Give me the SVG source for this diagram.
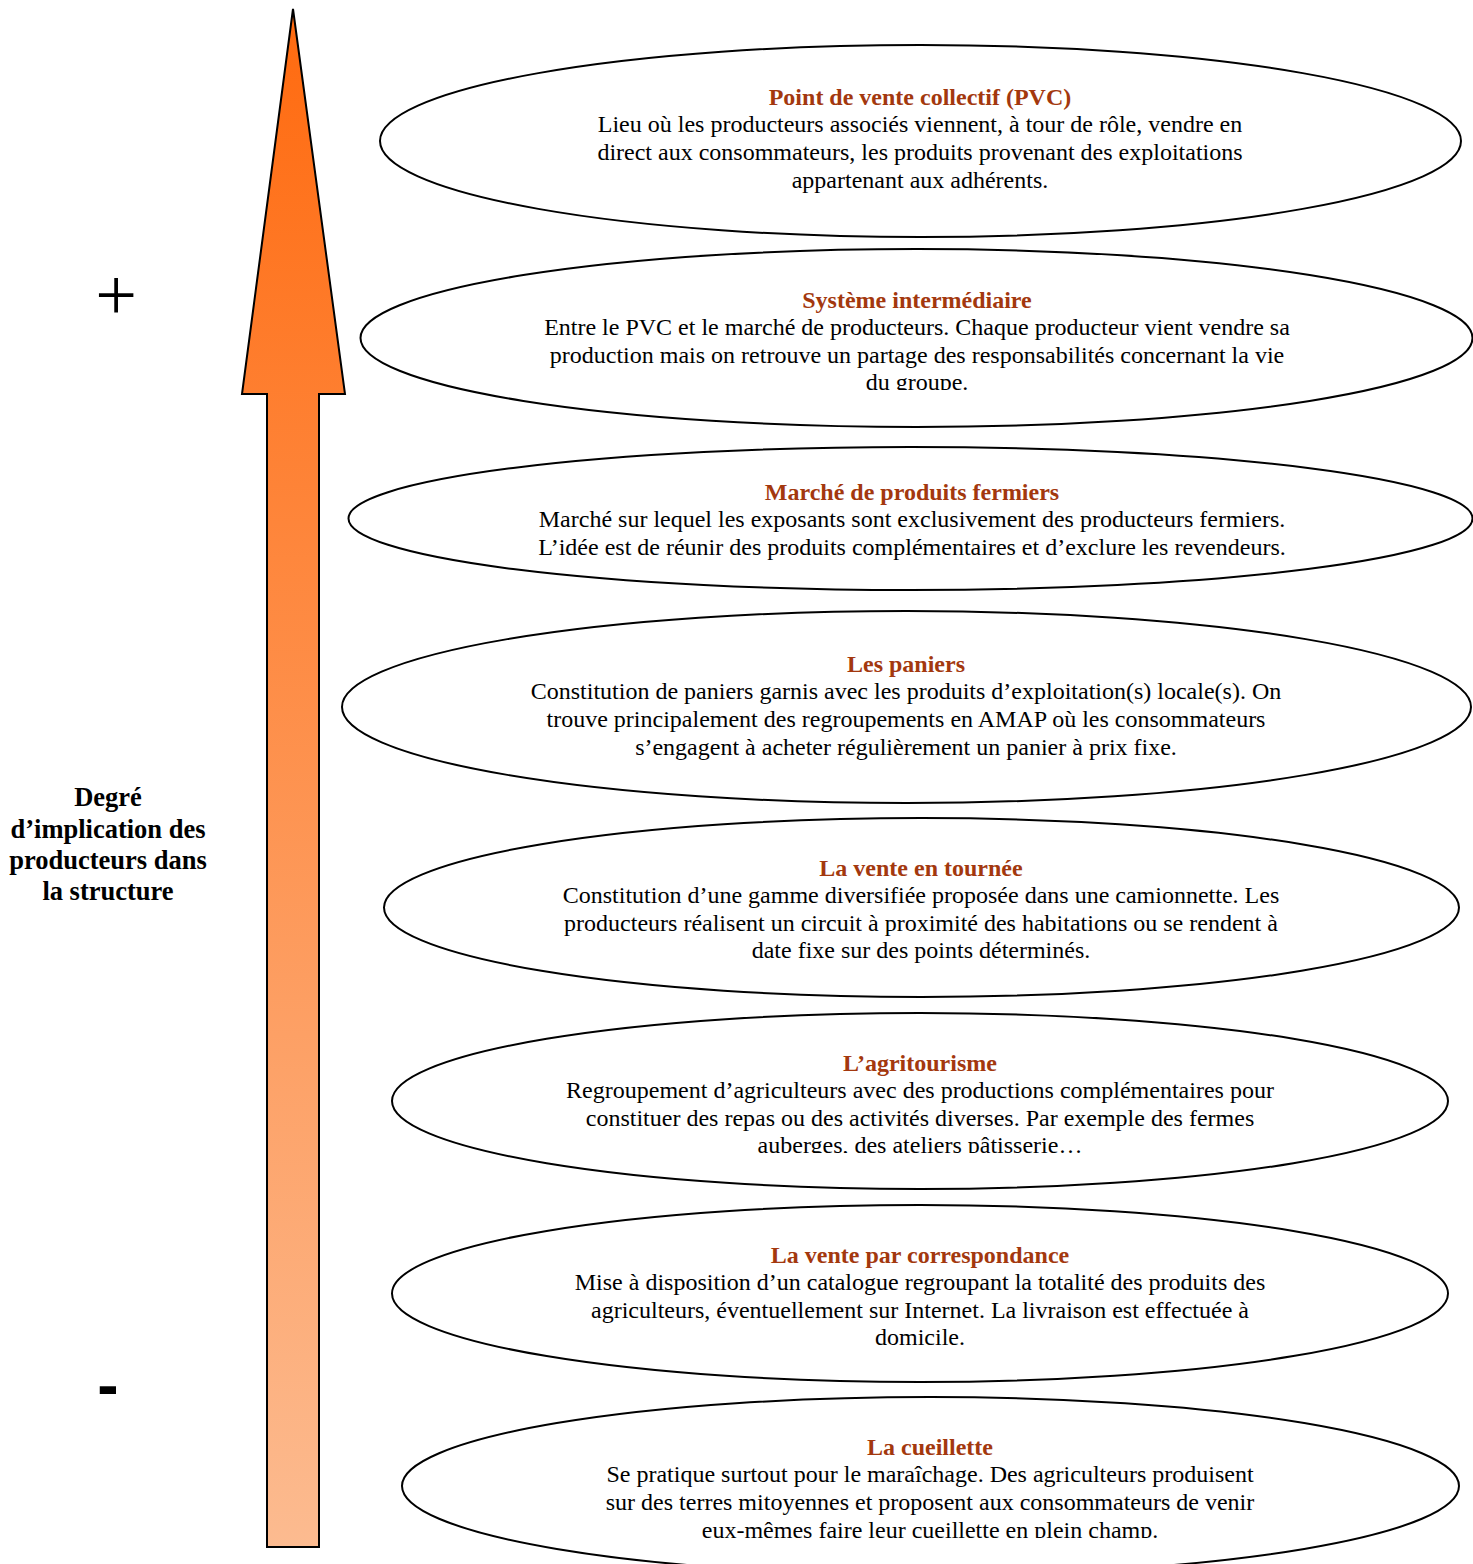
<svg xmlns="http://www.w3.org/2000/svg" width="1473" height="1564" viewBox="0 0 1473 1564">
<style>
.e{fill:#fff;stroke:#000;stroke-width:2}
.t{font-family:"Liberation Serif","Times New Roman",serif;font-size:24px;font-weight:bold;fill:#A3380E;text-anchor:middle}
.b{font-family:"Liberation Serif","Times New Roman",serif;font-size:24px;fill:#000;text-anchor:middle}
.l{font-family:"Liberation Serif","Times New Roman",serif;font-size:26.5px;font-weight:bold;fill:#000;text-anchor:middle}
</style>
<defs>
<linearGradient id="g" x1="0" y1="0" x2="0" y2="1">
<stop offset="0" stop-color="#FF6A0F"/>
<stop offset="1" stop-color="#FCBB90"/>
</linearGradient>
<clipPath id="c2"><rect x="0" y="0" width="1473" height="390"/></clipPath>
<clipPath id="c6"><rect x="0" y="0" width="1473" height="1153"/></clipPath>
<clipPath id="c8"><rect x="0" y="0" width="1473" height="1538"/></clipPath>
</defs>
<rect width="1473" height="1564" fill="#fff"/>
<g id="arrow">
<path d="M293 9 L345 394 L319 394 L319 1547 L267 1547 L267 394 L242 394 Z" fill="url(#g)" stroke="#000" stroke-width="2" stroke-linejoin="miter"/>
</g>
<g id="label">
<text class="l" x="108" y="806">Degré</text>
<text class="l" x="108" y="838">d’implication des</text>
<text class="l" x="108" y="869">producteurs dans</text>
<text class="l" x="108" y="900">la structure</text>
</g>
<g id="plus"><text x="116" y="320" font-family="Liberation Serif, serif" font-size="74" text-anchor="middle">+</text></g>
<g id="minus"><text x="108" y="1407" font-family="Liberation Sans, sans-serif" font-weight="bold" font-size="64" text-anchor="middle">-</text></g>
<g id="connectors"></g>
<g id="n1">
<ellipse class="e" cx="920.5" cy="141" rx="540.5" ry="96"/>
<text class="t" x="920" y="105">Point de vente collectif (PVC)</text>
<text class="b" x="920" y="132">Lieu où les producteurs associés viennent, à tour de rôle, vendre en</text>
<text class="b" x="920" y="160">direct aux consommateurs, les produits provenant des exploitations</text>
<text class="b" x="920" y="188">appartenant aux adhérents.</text>
</g>
<g id="n2">
<ellipse class="e" cx="916.5" cy="338" rx="556" ry="89"/>
<text class="t" x="917" y="308">Système intermédiaire</text>
<text class="b" x="917" y="335">Entre le PVC et le marché de producteurs. Chaque producteur vient vendre sa</text>
<text class="b" x="917" y="363">production mais on retrouve un partage des responsabilités concernant la vie</text>
<text class="b" x="917" y="390" clip-path="url(#c2)">du groupe.</text>
</g>
<g id="n3">
<ellipse class="e" cx="910.5" cy="518.5" rx="562" ry="71.5"/>
<text class="t" x="912" y="500">Marché de produits fermiers</text>
<text class="b" x="912" y="527">Marché sur lequel les exposants sont exclusivement des producteurs fermiers.</text>
<text class="b" x="912" y="555">L’idée est de réunir des produits complémentaires et d’exclure les revendeurs.</text>
</g>
<g id="n4">
<ellipse class="e" cx="906.5" cy="707" rx="564.5" ry="96"/>
<text class="t" x="906" y="672">Les paniers</text>
<text class="b" x="906" y="699">Constitution de paniers garnis avec les produits d’exploitation(s) locale(s). On</text>
<text class="b" x="906" y="727">trouve principalement des regroupements en AMAP où les consommateurs</text>
<text class="b" x="906" y="755">s’engagent à acheter régulièrement un panier à prix fixe.</text>
</g>
<g id="n5">
<ellipse class="e" cx="921.5" cy="907.5" rx="537.5" ry="89.5"/>
<text class="t" x="921" y="876">La vente en tournée</text>
<text class="b" x="921" y="903">Constitution d’une gamme diversifiée proposée dans une camionnette. Les</text>
<text class="b" x="921" y="931">producteurs réalisent un circuit à proximité des habitations ou se rendent à</text>
<text class="b" x="921" y="958">date fixe sur des points déterminés.</text>
</g>
<g id="n6">
<ellipse class="e" cx="920" cy="1101" rx="528" ry="88"/>
<text class="t" x="920" y="1071">L’agritourisme</text>
<text class="b" x="920" y="1098">Regroupement d’agriculteurs avec des productions complémentaires pour</text>
<text class="b" x="920" y="1126">constituer des repas ou des activités diverses. Par exemple des fermes</text>
<text class="b" x="920" y="1153" clip-path="url(#c6)">auberges, des ateliers pâtisserie…</text>
</g>
<g id="n7">
<ellipse class="e" cx="920" cy="1293.5" rx="528" ry="88.5"/>
<text class="t" x="920" y="1263">La vente par correspondance</text>
<text class="b" x="920" y="1290">Mise à disposition d’un catalogue regroupant la totalité des produits des</text>
<text class="b" x="920" y="1318">agriculteurs, éventuellement sur Internet. La livraison est effectuée à</text>
<text class="b" x="920" y="1345">domicile.</text>
</g>
<g id="n8">
<ellipse class="e" cx="930.5" cy="1486" rx="528.5" ry="89"/>
<text class="t" x="930" y="1455">La cueillette</text>
<text class="b" x="930" y="1482">Se pratique surtout pour le maraîchage. Des agriculteurs produisent</text>
<text class="b" x="930" y="1510">sur des terres mitoyennes et proposent aux consommateurs de venir</text>
<text class="b" x="930" y="1538" clip-path="url(#c8)">eux-mêmes faire leur cueillette en plein champ.</text>
</g>
</svg>
